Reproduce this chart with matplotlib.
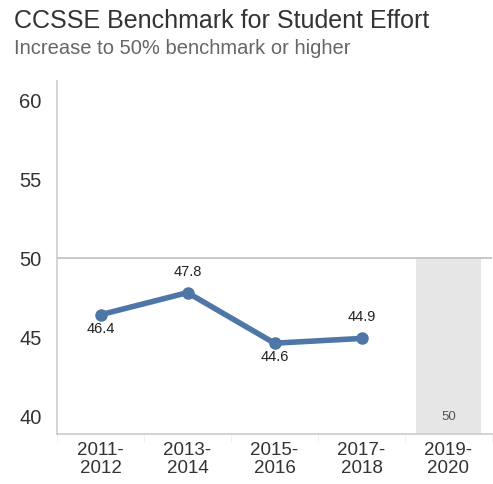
import matplotlib.pyplot as plt
import numpy as np

plt.rcParams['font.family'] = ['Liberation Sans', 'DejaVu Sans']

years = ['2011-\n2012', '2013-\n2014', '2015-\n2016', '2017-\n2018', '2019-\n2020']
effort = [46.4, 47.8, 44.6, 44.9]
target = 50
label_pos = ['below', 'above', 'below', 'above']

fig = plt.figure(figsize=(4.93, 4.85), dpi=100)
ax = fig.add_axes([57/493, 1 - 435/485, 435/493, (435 - 82)/485])

x = np.arange(len(years))
ax.bar(x[-1], target - 38.85, bottom=38.85, width=0.75, color='#e6e6e6', zorder=1)
ax.text(x[-1], 40.0, str(target), ha='center', va='center', fontsize=9.5, color='#555555')
ax.axhline(50, color='#bfbfbf', lw=1.2, zorder=2)

ax.plot(x[:len(effort)], effort, color='#4e76a6', lw=4, marker='o', ms=8,
        solid_capstyle='round', zorder=3)
for xi, v, pos in zip(x, effort, label_pos):
    off = -13 if pos == 'below' else 22
    ax.annotate(f'{v:.1f}', (xi, v), xytext=(0, off), textcoords='offset pixels',
                ha='center', va='center', fontsize=10.5, color='#222222')

ax.set_xlim(-0.5, 4.5)
ax.set_ylim(38.85, 61.2)
ax.set_yticks([40, 45, 50, 55, 60])
ax.set_xticks(x)
ax.set_xticklabels(years, fontsize=13.5, color='#333333', linespacing=1.05)
ax.tick_params(axis='x', length=0, pad=5)
ax.set_xticks(np.arange(-0.5, 4.6, 1), minor=True)
ax.tick_params(axis='x', which='minor', length=6, color='#eeeeee')
ax.tick_params(axis='y', length=0, labelsize=14.5, labelcolor='#333333', pad=11)

for s in ['top', 'right']:
    ax.spines[s].set_visible(False)
for s in ['left', 'bottom']:
    ax.spines[s].set_color('#cccccc')
    ax.spines[s].set_linewidth(1.2)

fig.text(14/493, 1 - 21/485, 'CCSSE Benchmark for Student Effort', fontsize=18,
         color='#333333', va='center')
fig.text(14/493, 1 - 48/485, 'Increase to 50% benchmark or higher', fontsize=14.5,
         color='#666666', va='center')

fig.savefig('out.png', dpi=100)
